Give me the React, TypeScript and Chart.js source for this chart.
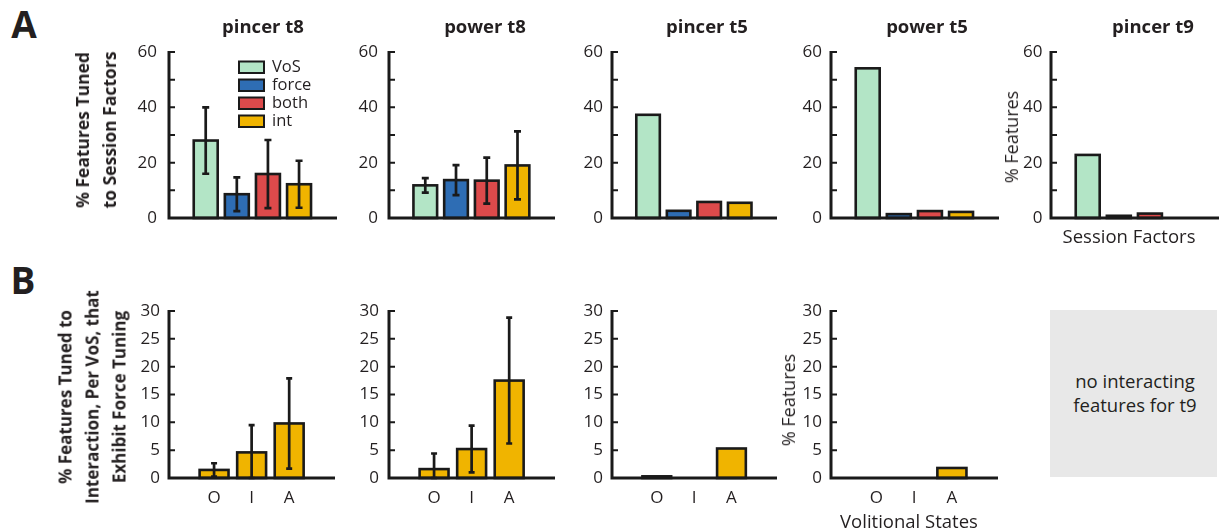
import React, { useEffect, useRef } from "react";
import { Chart, registerables } from "chart.js";

Chart.register(...registerables);

// ---------------- data ----------------
const sessionFactors = ["VoS", "force", "both", "int"];
const factorColors = ["#b3e5c6", "#2e6db4", "#dd4a4b", "#f0b400"];
const topTitles = ["pincer t8", "power t8", "pincer t5", "power t5", "pincer t9"];

const pincerT8 = [28, 8.6, 15.9, 12.2];
const pincerT8Err = [12, 6.1, 12.3, 8.5];
const powerT8 = [11.8, 13.7, 13.5, 19];
const powerT8Err = [2.6, 5.4, 8.3, 12.3];
const pincerT5 = [37.3, 2.6, 5.8, 5.5];
const powerT5 = [54.1, 1.4, 2.5, 2.2];
const pincerT9 = [22.8, 0.8, 1.6, 0];

const volitionalStates = ["O", "I", "A"];
const intColor = "#f0b400";
const intPincerT8 = [1.45, 4.6, 9.8];
const intPincerT8Err = [1.2, 4.9, 8.1];
const intPowerT8 = [1.6, 5.2, 17.5];
const intPowerT8Err = [2.8, 4.2, 11.3];
const intPincerT5 = [0.3, 0, 5.3];
const intPowerT5 = [0, 0, 1.8];

const topYTicks = { max: 60, step: 10, labelEvery: 20 };
const bottomYTicks = { max: 30, step: 5, labelEvery: 5 };

// ---------------- style ----------------
const FONT = "'Open Sans', 'Noto Sans', sans-serif";
const TEXT = "#231f20";
const INK = "#1a1a1a";

type PanelSpec = {
  axisX: number;
  plotRight: number;
  plotTop: number;
  plotBottom: number;
  labels: string[];
  values: number[];
  errors?: number[];
  colors: string[];
  yMax: number;
  yStep: number;
  yLabelEvery: number;
  showXLabels: boolean;
  legend?: boolean;
  labelGap: number;
  xMin: number;
  xMax: number;
  capHalf: number;
  barFrac: number;
};

function decorPlugin(spec: PanelSpec) {
  return {
    id: "decor",
    afterDatasetsDraw(chart: any) {
      const { ctx, chartArea: a, scales } = chart;
      const x = scales.x;
      const y = scales.y;
      ctx.save();
      ctx.strokeStyle = INK;
      // centred bar outlines
      const meta = chart.getDatasetMeta(0);
      ctx.lineWidth = 2.6;
      meta.data.forEach((bar: any, i: number) => {
        if (!spec.values[i]) return;
        const p = bar.getProps(["x", "y", "base", "width"], true);
        ctx.strokeRect(p.x - p.width / 2, p.y, p.width, p.base - p.y);
      });
      // error bars
      if (spec.errors) {
        ctx.lineWidth = 2.7;
        spec.values.forEach((v, i) => {
          const e = spec.errors![i];
          const px = x.getPixelForValue(i);
          const hi = y.getPixelForValue(v + e);
          const lo = y.getPixelForValue(Math.max(0, v - e));
          ctx.beginPath();
          ctx.moveTo(px, hi);
          ctx.lineTo(px, lo);
          ctx.moveTo(px - spec.capHalf, hi);
          ctx.lineTo(px + spec.capHalf, hi);
          ctx.moveTo(px - spec.capHalf, lo);
          ctx.lineTo(px + spec.capHalf, lo);
          ctx.stroke();
        });
      }
      // axes
      ctx.lineWidth = 3;
      ctx.beginPath();
      ctx.moveTo(a.left, a.top - 1);
      ctx.lineTo(a.left, a.bottom);
      ctx.lineTo(a.right, a.bottom);
      ctx.stroke();
      // inward tick marks
      ctx.lineWidth = 2;
      ctx.beginPath();
      y.ticks.forEach((t: any) => {
        if (t.value === 0) return;
        const py = y.getPixelForValue(t.value);
        ctx.moveTo(a.left, py);
        ctx.lineTo(a.left + 6, py);
      });
      ctx.stroke();
      // legend
      if (spec.legend) {
        ctx.font = `16.5px ${FONT}`;
        ctx.textBaseline = "middle";
        ctx.textAlign = "left";
        spec.labels.forEach((lab, i) => {
          const bx = a.left + 70;
          const by = a.top + 9.5 + i * 18;
          ctx.fillStyle = spec.colors[i];
          ctx.fillRect(bx, by, 25, 11.5);
          ctx.lineWidth = 2;
          ctx.strokeRect(bx, by, 25, 11.5);
          ctx.fillStyle = TEXT;
          ctx.fillText(lab, bx + 33, by + 6);
        });
      }
      ctx.restore();
    },
  };
}

function Panel({ spec }: { spec: PanelSpec }) {
  const ref = useRef<HTMLCanvasElement>(null);
  const YW = 60;
  const PT = 30;
  const PR = 6;
  const XH = spec.showXLabels ? 34 : 10;
  const PB = spec.showXLabels ? 0 : 20;
  const left = spec.axisX - YW;
  const top = spec.plotTop - PT;
  const width = YW + (spec.plotRight - spec.axisX) + PR;
  const height = PT + (spec.plotBottom - spec.plotTop) + XH + PB;

  useEffect(() => {
    const chart = new Chart(ref.current as HTMLCanvasElement, {
      type: "bar",
      data: {
        datasets: [
          {
            data: spec.values.map((v, i) => ({ x: i, y: v })),
            backgroundColor: spec.colors,
            borderWidth: 0,
            barPercentage: spec.barFrac,
            categoryPercentage: 1,
          },
        ],
      },
      options: {
        animation: false,
        responsive: false,
        maintainAspectRatio: false,
        events: [],
        layout: { padding: { left: 0, top: PT, right: PR, bottom: PB } },
        plugins: { legend: { display: false }, tooltip: { enabled: false } },
        scales: {
          x: {
            type: "linear",
            offset: false,
            min: spec.xMin,
            max: spec.xMax,
            grid: { display: false, drawTicks: false },
            border: { display: false },
            afterBuildTicks: (s: any) => {
              s.ticks = spec.labels.map((_, i) => ({ value: i }));
            },
            afterFit: (s: any) => {
              s.height = XH;
            },
            ticks: {
              display: spec.showXLabels,
              autoSkip: false,
              maxRotation: 0,
              padding: 10,
              color: TEXT,
              font: { family: FONT, size: 17 },
              callback: (v: any) => spec.labels[v] ?? "",
            },
          },
          y: {
            type: "linear",
            min: 0,
            max: spec.yMax,
            grid: { display: false, drawTicks: false },
            border: { display: false },
            afterFit: (s: any) => {
              s.width = YW;
            },
            ticks: {
              stepSize: spec.yStep,
              autoSkip: false,
              padding: spec.labelGap,
              color: TEXT,
              font: { family: FONT, size: 17 },
              callback: (v: any) => (v % spec.yLabelEvery === 0 ? String(v) : ""),
            },
          },
        },
      } as any,
      plugins: [decorPlugin(spec)],
    });
    return () => chart.destroy();
  }, []);

  return (
    <canvas
      ref={ref}
      width={width}
      height={height}
      style={{ position: "absolute", left, top, width, height }}
    />
  );
}

function Label(props: {
  x: number;
  y: number;
  size: number;
  bold?: boolean;
  rotate?: boolean;
  lineHeight?: number;
  text: string;
}) {
  const { x, y, size, bold, rotate, lineHeight, text } = props;
  return (
    <div
      style={{
        position: "absolute",
        left: x,
        top: y,
        transform: `translate(-50%, -50%)${rotate ? " rotate(-90deg)" : ""}`,
        whiteSpace: "pre",
        textAlign: "center",
        fontSize: size,
        fontWeight: bold ? 700 : 400,
        lineHeight: `${lineHeight ?? Math.round(size * 1.2)}px`,
        color: TEXT,
      }}
    >
      {text}
    </div>
  );
}

const topAxisX = [169, 389, 612, 831, 1051];
const topRight = [337, 555, 777, 999, 1219];
const topGap = [12, 11, 9, 9, 8.5];
const topValues = [pincerT8, powerT8, pincerT5, powerT5, pincerT9];
const topErrors = [pincerT8Err, powerT8Err, undefined, undefined, undefined];
const titleX = [263, 485, 707, 927, 1153];

const botAxisX = [169, 389, 612, 831];
const botRight = [335, 555, 777, 998];
const botGap = [9, 10, 9, 9];
const botValues = [intPincerT8, intPowerT8, intPincerT5, intPowerT5];
const botErrors = [intPincerT8Err, intPowerT8Err, undefined, undefined];

export default function App() {
  const topSpecs: PanelSpec[] = topValues.map((vals, i) => ({
    axisX: topAxisX[i],
    plotRight: topRight[i],
    plotTop: 52,
    plotBottom: 218,
    labels: sessionFactors,
    values: vals,
    errors: topErrors[i],
    colors: factorColors,
    yMax: topYTicks.max,
    yStep: topYTicks.step,
    yLabelEvery: topYTicks.labelEvery,
    showXLabels: false,
    legend: i === 0,
    labelGap: topGap[i],
    xMin: -1.18,
    xMax: 4.22,
    capHalf: 3.5,
    barFrac: 0.77,
  }));
  const botSpecs: PanelSpec[] = botValues.map((vals, i) => ({
    axisX: botAxisX[i],
    plotRight: botRight[i],
    plotTop: 311,
    plotBottom: 478,
    labels: volitionalStates,
    values: vals,
    errors: botErrors[i],
    colors: volitionalStates.map(() => intColor),
    yMax: bottomYTicks.max,
    yStep: bottomYTicks.step,
    yLabelEvery: bottomYTicks.labelEvery,
    showXLabels: true,
    labelGap: botGap[i],
    xMin: -1.2,
    xMax: 3.22,
    capHalf: 3,
    barFrac: 0.77,
  }));

  return (
    <div
      style={{
        position: "absolute",
        left: 0,
        top: 0,
        width: 1224,
        height: 531,
        overflow: "hidden",
        background: "#ffffff",
        fontFamily: FONT,
      }}
    >
      {topSpecs.map((s, i) => (
        <Panel key={"t" + i} spec={s} />
      ))}
      {botSpecs.map((s, i) => (
        <Panel key={"b" + i} spec={s} />
      ))}

      <Label x={24} y={24} size={37} bold text="A" />
      <Label x={23} y={280} size={37} bold text="B" />
      {topTitles.map((t, i) => (
        <Label key={t} x={titleX[i]} y={26} size={18.5} bold text={t} />
      ))}
      <Label
        x={96}
        y={130}
        size={17.5}
        bold
        rotate
        lineHeight={27}
        text={"% Features Tuned\nto Session Factors"}
      />
      <Label
        x={92}
        y={397}
        size={17}
        bold
        rotate
        lineHeight={27}
        text={"% Features Tuned to\nInteraction, Per VoS, that\nExhibit Force Tuning"}
      />
      <Label x={1011} y={137} size={18} rotate text="% Features" />
      <Label x={788} y={400} size={18} rotate text="% Features" />
      <Label x={1129} y={236} size={18.5} text="Session Factors" />
      <Label x={909} y={521} size={18.5} text="Volitional States" />

      <div
        style={{
          position: "absolute",
          left: 1050,
          top: 310,
          width: 167,
          height: 167,
          background: "#e8e8e8",
        }}
      />
      <Label
        x={1135}
        y={392}
        size={18.5}
        lineHeight={23.5}
        text={"no interacting\nfeatures for t9"}
      />
    </div>
  );
}
